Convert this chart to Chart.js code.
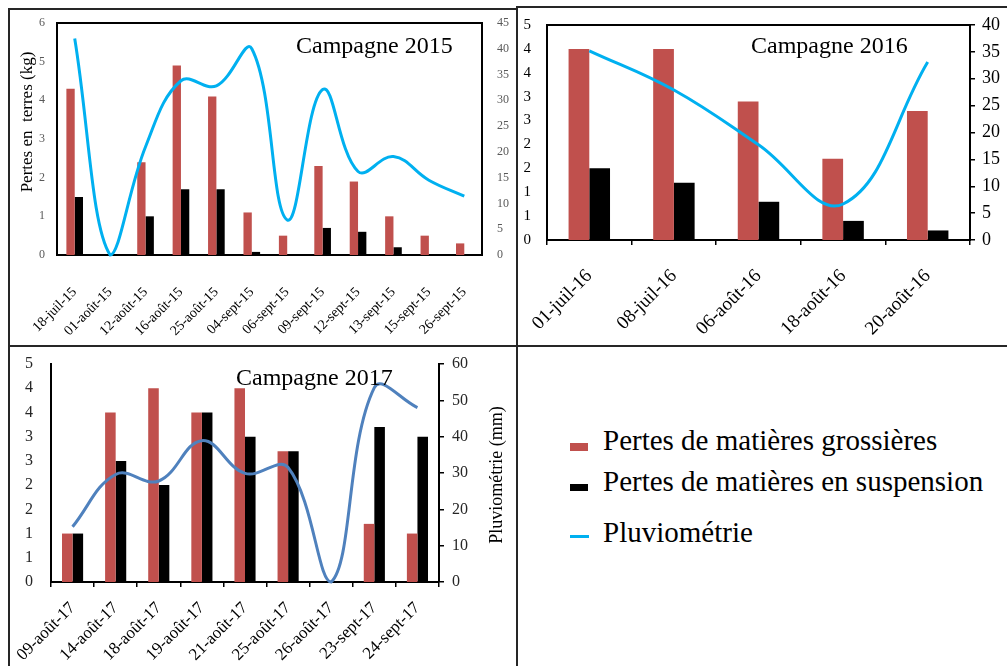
<!DOCTYPE html>
<html>
  <head>
    <title>Pertes en terres et pluviométrie</title>
    <script src="https://cdn.jsdelivr.net/npm/chart.js"></script>
    <style>
      body {
        margin: 0;
        background: #fff;
      }
      #page {
        position: relative;
        width: 1007px;
        height: 666px;
        overflow: hidden;
        background: #fff;
        font-family: "Liberation Serif", serif;
      }
      .panel {
        position: absolute;
        border: 2px solid #262626;
        box-sizing: border-box;
      }
      canvas {
        position: absolute;
      }
      .legend-row {
        position: absolute;
        left: 603px;
        font-size: 29px;
        line-height: 29px;
        white-space: nowrap;
        color: #000;
      }
      .swatch {
        position: absolute;
        left: 570px;
      }
    </style>
  </head>
  <body>
    <div id="page">
      <div class="panel" style="left: 8px; top: 8px; width: 510px; height: 339px"></div>
      <div class="panel" style="left: 516px; top: 6px; width: 500px; height: 341px"></div>
      <div class="panel" style="left: 8px; top: 345px; width: 510px; height: 340px"></div>

      <canvas id="c2015" width="504" height="332" style="left: 10px; top: 10px"></canvas>
      <canvas id="c2016" width="489" height="334" style="left: 518px; top: 8px"></canvas>
      <canvas id="c2017" width="504" height="317" style="left: 10px; top: 349px"></canvas>

      <div class="swatch" style="top: 443px; width: 18px; height: 8px; background: #c0504d"></div>
      <div class="legend-row" style="top: 426px">Pertes de matières grossières</div>
      <div class="swatch" style="top: 484px; width: 18px; height: 7px; background: #000"></div>
      <div class="legend-row" style="top: 467px">Pertes de matières en suspension</div>
      <div class="swatch" style="top: 535px; width: 19px; height: 3px; background: #00b0f0"></div>
      <div class="legend-row" style="top: 518px">Pluviométrie</div>
    </div>

    <script>
      // Campagne 2015
      const labels2015 = ["18-juil-15", "01-août-15", "12-août-15", "16-août-15", "25-août-15", "04-sept-15",
        "06-sept-15", "09-sept-15", "12-sept-15", "13-sept-15", "15-sept-15", "26-sept-15"];
      const grossieres2015 = [4.3, 0, 2.4, 4.9, 4.1, 1.1, 0.5, 2.3, 1.9, 1.0, 0.5, 0.3];
      const suspension2015 = [1.5, 0, 1.0, 1.7, 1.7, 0.08, 0, 0.7, 0.6, 0.2, 0, 0];
      const pluie2015 = [42, 0, 21, 33.8, 32.8, 40, 6.8, 32.1, 16.2, 19.1, 14.5, 11.4];

      // Campagne 2016
      const labels2016 = ["01-juil-16", "08-juil-16", "06-août-16", "18-août-16", "20-août-16"];
      const grossieres2016 = [4.0, 4.0, 2.9, 1.7, 2.7];
      const suspension2016 = [1.5, 1.2, 0.8, 0.4, 0.2];
      const pluie2016 = [35.2, 27.9, 17.7, 6.7, 33.1];

      // Campagne 2017
      const labels2017 = ["09-août-17", "14-août-17", "18-août-17", "19-août-17", "21-août-17",
        "25-août-17", "26-août-17", "23-sept-17", "24-sept-17"];
      const grossieres2017 = [1.0, 3.5, 4.0, 3.5, 4.0, 2.7, 0, 1.2, 1.0];
      const suspension2017 = [1.0, 2.5, 2.0, 3.5, 3.0, 2.7, 0, 3.2, 3.0];
      const pluie2017 = [15.2, 29.6, 27.8, 38.9, 29.9, 31.5, 0, 53.5, 48];

      const serif = "'Liberation Serif', serif";
      Chart.defaults.font.family = serif;
      Chart.defaults.color = "#000";
      Chart.defaults.animation = false;

      // texts drawn on each canvas (canvas coordinates)
      const captions = {
        c2015: [
          { text: "Campagne 2015", x: 286, y: 43, font: "24px " + serif },
          { text: "Pertes en  terres (kg)", x: 18, y: 112, font: "17px " + serif, rotate: true },
        ],
        c2016: [{ text: "Campagne 2016", x: 233, y: 45, font: "24px " + serif }],
        c2017: [
          { text: "Campagne 2017", x: 226, y: 36, font: "24px " + serif },
          { text: "Pluviométrie (mm)", x: 487, y: 126, font: "18px " + serif, rotate: true },
        ],
      };
      const framed = ["c2015", "c2016"];

      const framePlugin = {
        id: "frame",
        beforeDatasetsDraw(chart) {
          if (!framed.includes(chart.canvas.id)) return;
          const a = chart.chartArea;
          const ctx = chart.ctx;
          ctx.save();
          ctx.strokeStyle = "#000";
          ctx.lineWidth = 2;
          ctx.strokeRect(a.left, a.top, a.right - a.left, a.bottom - a.top);
          ctx.restore();
        },
      };

      const captionPlugin = {
        id: "caption",
        afterDraw(chart) {
          const ctx = chart.ctx;
          (captions[chart.canvas.id] || []).forEach((it) => {
            ctx.save();
            ctx.font = it.font;
            ctx.fillStyle = "#000";
            ctx.translate(it.x, it.y);
            if (it.rotate) {
              ctx.rotate(-Math.PI / 2);
              ctx.textAlign = "center";
              ctx.textBaseline = "middle";
            } else {
              ctx.textAlign = "left";
              ctx.textBaseline = "alphabetic";
            }
            ctx.fillText(it.text, 0, 0);
            ctx.restore();
          });
        },
      };
      Chart.register(framePlugin, captionPlugin);

      function makeDatasets(gross, susp, pluie, lineColor, groupPct) {
        return [
          { label: "Pertes de matières grossières", data: gross, backgroundColor: "#c0504d",
            yAxisID: "y", order: 1, categoryPercentage: groupPct, barPercentage: 1 },
          { label: "Pertes de matières en suspension", data: susp, backgroundColor: "#000",
            yAxisID: "y", order: 1, categoryPercentage: groupPct, barPercentage: 1 },
          { type: "line", label: "Pluviométrie", data: pluie, borderColor: lineColor, borderWidth: 3,
            pointRadius: 0, tension: 0.4, fill: false, yAxisID: "y1", order: 0, clip: false },
        ];
      }

      // fixed axis sizes so the plot areas land where they should
      function fixWidth(w) {
        return (s) => { s.width = w; s.paddingTop = 0; s.paddingBottom = 0; };
      }
      function fixHeight(h) {
        return (s) => { s.height = h; s.paddingLeft = 0; s.paddingRight = 0; };
      }

      const noPlugins = { legend: { display: false }, tooltip: { enabled: false } };
      const roundTick = (v) => Math.round(v);
      const tickGrid = { display: true, drawOnChartArea: false, drawTicks: true, tickLength: 5, color: "#000", lineWidth: 1.5 };

      new Chart(document.getElementById("c2015"), {
        type: "bar",
        data: { labels: labels2015, datasets: makeDatasets(grossieres2015, suspension2015, pluie2015, "#00b0f0", 0.47) },
        options: {
          responsive: false,
          layout: { padding: { top: 13 } },
          plugins: noPlugins,
          scales: {
            x: {
              grid: { display: false },
              border: { display: false },
              ticks: { autoSkip: false, minRotation: 45, maxRotation: 45, padding: 21, font: { size: 14 } },
              afterFit: fixHeight(87),
            },
            y: {
              position: "left", min: 0, max: 6,
              grid: { display: false },
              border: { display: false },
              ticks: { stepSize: 1, padding: 4, color: "#595959", font: { size: 12 } },
              afterFit: fixWidth(47),
            },
            y1: {
              position: "right", min: 0, max: 45,
              grid: { display: false },
              border: { display: false },
              ticks: { stepSize: 5, padding: 7, color: "#595959", font: { size: 12 } },
              afterFit: fixWidth(32),
            },
          },
        },
      });

      new Chart(document.getElementById("c2016"), {
        type: "bar",
        data: { labels: labels2016, datasets: makeDatasets(grossieres2016, suspension2016, pluie2016, "#00b0f0", 0.49) },
        options: {
          responsive: false,
          layout: { padding: { top: 17 } },
          plugins: noPlugins,
          scales: {
            x: {
              grid: tickGrid,
              border: { display: false },
              ticks: { autoSkip: false, minRotation: 45, maxRotation: 45, padding: 20, font: { size: 19 } },
              afterFit: fixHeight(102),
            },
            y: {
              position: "left", min: 0, max: 4.5,
              grid: { display: false },
              border: { display: false },
              ticks: { stepSize: 0.5, padding: 8, font: { size: 15 }, callback: roundTick },
              afterFit: fixWidth(29),
            },
            y1: {
              position: "right", min: 0, max: 40,
              grid: tickGrid,
              border: { display: false },
              ticks: { stepSize: 5, padding: 7, font: { size: 18 } },
              afterFit: fixWidth(37),
            },
          },
        },
      });

      new Chart(document.getElementById("c2017"), {
        type: "bar",
        data: { labels: labels2017, datasets: makeDatasets(grossieres2017, suspension2017, pluie2017, "#4f81bd", 0.49) },
        options: {
          responsive: false,
          layout: { padding: { top: 15 } },
          plugins: noPlugins,
          scales: {
            x: {
              grid: tickGrid,
              border: { display: true, color: "#000", width: 2 },
              ticks: { autoSkip: false, minRotation: 45, maxRotation: 45, padding: 11, font: { size: 17 } },
              afterFit: fixHeight(84),
            },
            y: {
              position: "left", min: 0, max: 4.5,
              grid: { display: false },
              border: { display: true, color: "#000", width: 2 },
              ticks: { stepSize: 0.5, padding: 10, color: "#262626", font: { size: 16 }, callback: roundTick },
              afterFit: fixWidth(41),
            },
            y1: {
              position: "right", min: 0, max: 60,
              grid: tickGrid,
              border: { display: true, color: "#000", width: 2 },
              ticks: { stepSize: 10, padding: 8, color: "#262626", font: { size: 16 } },
              afterFit: fixWidth(75),
            },
          },
        },
      });
    </script>
  </body>
</html>
